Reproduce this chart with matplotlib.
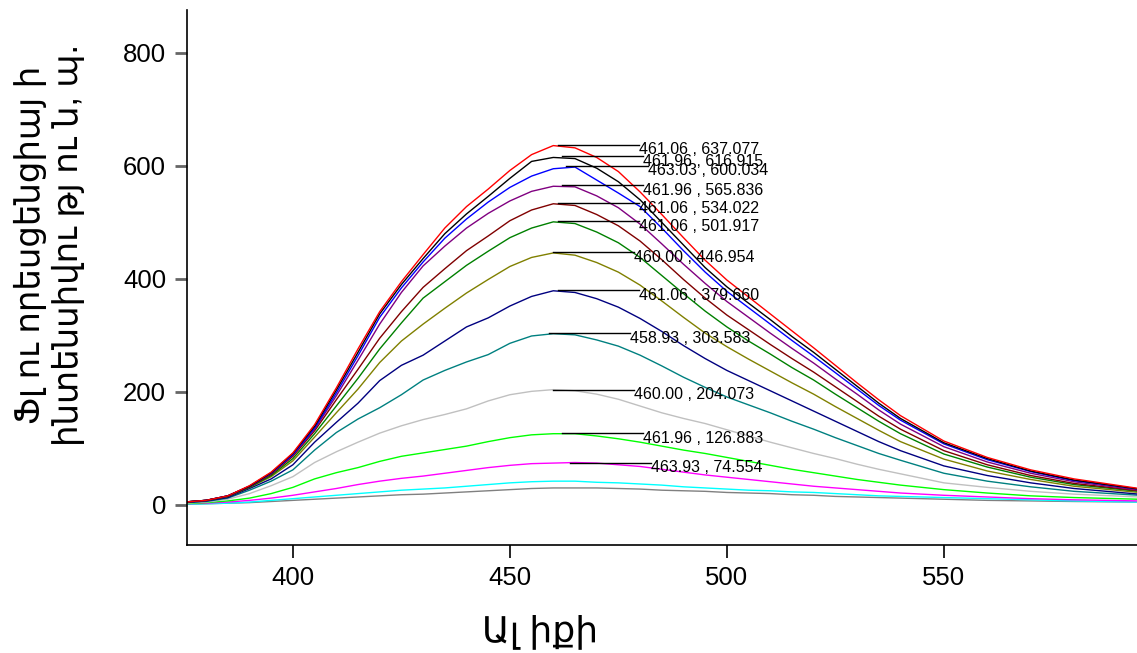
import matplotlib
matplotlib.use('Agg')
import matplotlib.pyplot as plt

# длины волн, нм
wavelength = [375, 380, 385, 390, 395, 400, 405, 410, 415, 420, 425, 430, 435, 440,
              445, 450, 455, 460, 465, 470, 475, 480, 485, 490, 495, 500, 505, 510,
              515, 520, 525, 530, 535, 540, 550, 560, 570, 580, 595]

red = [5, 8, 16, 34, 58, 92, 142, 207, 276, 342, 395, 443, 490, 528, 559, 592, 620, 636, 632, 615,
       590, 554, 514, 473, 433, 398, 368, 338, 308, 278, 247, 216, 186, 158, 113, 84, 62, 46, 29]
black = [5, 8, 16, 33, 57, 91, 139, 203, 270, 338, 390, 436, 480, 515, 546, 578, 608, 615, 613, 596,
         572, 540, 500, 460, 420, 386, 357, 328, 298, 270, 240, 210, 180, 153, 110, 82, 60, 44, 28]
blue = [5, 8, 16, 33, 56, 89, 136, 198, 264, 332, 384, 430, 472, 506, 536, 562, 582, 595, 598, 575,
        552, 528, 490, 450, 412, 378, 349, 320, 291, 263, 234, 205, 176, 150, 108, 80, 59, 43, 28]
purple = [5, 8, 16, 33, 56, 88, 134, 193, 256, 320, 376, 423, 458, 490, 516, 538, 555, 564, 563, 547,
          526, 497, 462, 426, 392, 360, 332, 304, 277, 251, 223, 196, 168, 143, 103, 76, 56, 41, 26]
maroon = [5, 8, 15, 32, 54, 86, 131, 186, 240, 295, 342, 385, 418, 450, 476, 503, 522, 533, 530, 514,
          494, 467, 434, 399, 366, 336, 310, 284, 259, 235, 209, 183, 157, 134, 96, 71, 52, 38, 25]
green = [5, 8, 15, 31, 52, 82, 126, 175, 224, 276, 322, 366, 395, 424, 449, 473, 490, 501, 498, 483,
         464, 438, 406, 374, 343, 315, 290, 267, 243, 221, 196, 172, 148, 126, 90, 67, 49, 36, 24]
olive = [5, 8, 15, 31, 50, 78, 120, 163, 205, 252, 290, 320, 348, 375, 399, 422, 438, 446, 442, 429,
         412, 389, 361, 332, 304, 280, 258, 237, 216, 196, 174, 153, 132, 112, 81, 60, 45, 33, 22]
navy = [4, 7, 13, 29, 46, 71, 111, 146, 180, 220, 247, 265, 290, 315, 331, 352, 369, 379, 376, 365,
        350, 330, 307, 282, 259, 238, 220, 202, 184, 166, 148, 130, 112, 96, 69, 52, 39, 29, 19]
teal = [4, 6, 12, 26, 42, 62, 97, 128, 152, 172, 195, 221, 238, 253, 266, 286, 299, 303, 301, 292,
        281, 265, 246, 226, 208, 191, 177, 163, 148, 134, 119, 105, 91, 79, 56, 42, 32, 24, 17]
silver = [3, 5, 10, 20, 34, 50, 75, 94, 111, 127, 140, 151, 160, 170, 184, 195, 201, 204, 202, 196,
          187, 175, 163, 153, 144, 133, 122, 111, 101, 91, 82, 72, 63, 55, 39, 31, 24, 19, 14]
lime = [2, 4, 7, 12, 20, 31, 46, 57, 66, 77, 86, 92, 98, 104, 112, 119, 124, 126, 126, 122,
        117, 111, 104, 97, 91, 84, 77, 70, 63, 57, 51, 45, 40, 35, 27, 21, 16, 13, 10]
magenta = [2, 3, 5, 8, 12, 17, 23, 29, 36, 42, 47, 51, 56, 61, 66, 70, 73, 74, 75, 74,
           71, 68, 63, 58, 53, 49, 45, 41, 37, 33, 30, 27, 24, 21, 17, 14, 11, 9, 7]
cyan = [1, 2, 3, 5, 8, 11, 14, 17, 20, 23, 26, 28, 30, 33, 36, 39, 41, 42, 42, 40,
        39, 37, 35, 32, 30, 28, 26, 25, 23, 22, 20, 18, 16, 15, 13, 11, 9, 7, 5]
gray = [1, 2, 3, 4, 6, 8, 10, 12, 14, 16, 18, 19, 21, 23, 25, 27, 29, 30, 30, 30,
        29, 28, 26, 25, 24, 22, 21, 20, 18, 17, 15, 14, 13, 12, 10, 8, 7, 6, 5]

# пики (подписи на графике)
peak_wl = [461.06, 461.96, 463.03, 461.96, 461.06, 461.06, 460.00, 461.06, 458.93, 460.00, 461.96, 463.93]
peak_val = [637.077, 616.915, 600.034, 565.836, 534.022, 501.917, 446.954, 379.660, 303.583, 204.073,
            126.883, 74.554]

x_ticks = [400, 450, 500, 550]
y_ticks = [0, 200, 400, 600, 800]

ylabel_1 = 'Ֆլ ու որեսցենցիայ ի'
ylabel_2 = 'ինտենսիվու թյ ու ն, պ.'
xlabel = 'Ալ իքի'

series = [
    (gray, '#808080'), (cyan, '#00ffff'), (magenta, '#ff00ff'), (lime, '#00ff00'),
    (silver, '#c0c0c0'), (teal, '#008080'), (navy, '#000080'), (olive, '#808000'),
    (green, '#008000'), (maroon, '#800000'), (purple, '#800080'), (blue, '#0000ff'),
    (black, '#000000'), (red, '#ff0000'),
]

fonts = ['Liberation Sans', 'DejaVu Sans']
plt.rcParams['font.family'] = fonts

fig = plt.figure(figsize=(11.37, 6.53), dpi=100)
ax = fig.add_axes([187 / 1137, 108 / 653, 950 / 1137, 535 / 653])

for values, color in series:
    ax.plot(wavelength, values, color=color, lw=1.0)

# линии-выноски к пикам
lead = 18.7
for wl, val in zip(peak_wl, peak_val):
    ax.plot([wl, wl + lead], [val, val], color='black', lw=1.0)
    ax.annotate(f'{wl:.2f} , {val:.3f}', xy=(wl + lead, val), xytext=(0, -3.5),
                textcoords='offset points', ha='left', va='center', fontsize=11.5)

ax.set_xlim(375.6, 594.5)
ax.set_ylim(-71, 876)
ax.set_xticks(x_ticks)
ax.set_yticks(y_ticks)
ax.tick_params(axis='both', labelsize=18.5, direction='out', pad=6)
ax.tick_params(axis='x', length=9, width=1.2, colors='black')
ax.tick_params(axis='y', length=9, width=2, color='#666666', labelcolor='black')

for side in ['top', 'right']:
    ax.spines[side].set_visible(False)
for side in ['left', 'bottom']:
    ax.spines[side].set_linewidth(1.2)

fig.text(30 / 1137, 1 - 245 / 653, ylabel_1, rotation=90, ha='center', va='center',
         fontsize=24.5, family=fonts)
fig.text(68 / 1137, 1 - 245 / 653, ylabel_2, rotation=90, ha='center', va='center',
         fontsize=24.5, family=fonts)
fig.text(540 / 1137, 1 - 632 / 653, xlabel, ha='center', va='center', fontsize=26, family=fonts)

fig.savefig('out.png', dpi=100)
plt.close('all')
